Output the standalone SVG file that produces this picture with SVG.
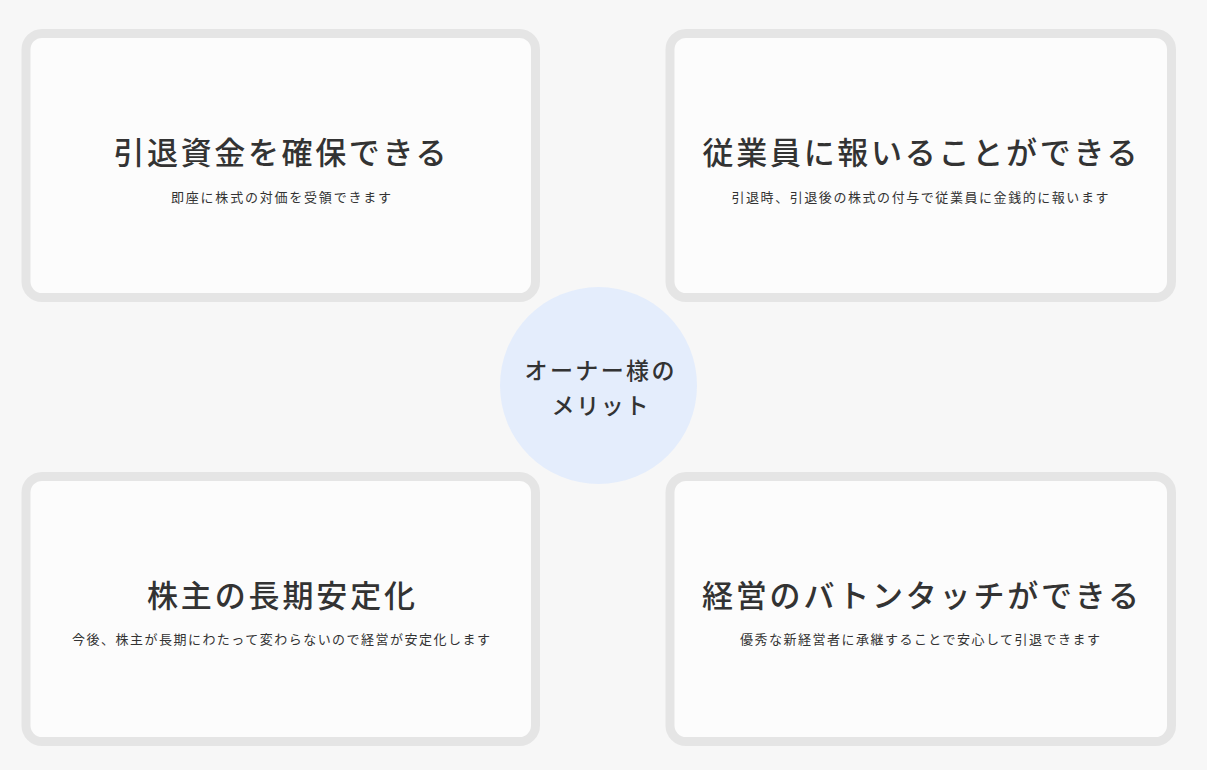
<svg xmlns="http://www.w3.org/2000/svg" width="1207" height="770" viewBox="0 0 1207 770">
<style>
.box{fill:#fcfcfc;stroke:#e5e5e5;stroke-width:9}
.t{font-family:"Noto Sans CJK JP","Noto Sans",sans-serif;font-size:31px;font-weight:500;fill:#333;text-anchor:middle}
.s{font-family:"Noto Sans CJK JP","Noto Sans",sans-serif;font-size:13px;font-weight:400;fill:#333;text-anchor:middle}
.c{font-family:"Noto Sans CJK JP","Noto Sans",sans-serif;font-size:23px;font-weight:500;fill:#333;text-anchor:middle}
</style>
<rect width="1207" height="770" fill="#f7f7f7"/>
<g id="connectors"></g>
<g id="node1">
<rect class="box" x="26" y="33.5" width="509.5" height="264" rx="16"/>
<text class="t" x="280" y="164" textLength="333" lengthAdjust="spacing">引退資金を確保できる</text>
<text class="s" x="281" y="201.5" textLength="220" lengthAdjust="spacing">即座に株式の対価を受領できます</text>
</g>
<g id="node2">
<rect class="box" x="670" y="33.5" width="501.5" height="264" rx="16"/>
<text class="t" x="920" y="164" textLength="435" lengthAdjust="spacing">従業員に報いることができる</text>
<text class="s" x="920" y="201.5" textLength="377" lengthAdjust="spacing">引退時、引退後の株式の付与で従業員に金銭的に報います</text>
</g>
<g id="node3">
<rect class="box" x="26" y="476.5" width="509.5" height="265" rx="16"/>
<text class="t" x="281" y="607" textLength="268" lengthAdjust="spacing">株主の長期安定化</text>
<text class="s" x="281" y="643.5" textLength="418" lengthAdjust="spacing">今後、株主が長期にわたって変わらないので経営が安定化します</text>
</g>
<g id="node4">
<rect class="box" x="670" y="476.5" width="501.5" height="265" rx="16"/>
<text class="t" x="920.5" y="607" textLength="437" lengthAdjust="spacing">経営のバトンタッチができる</text>
<text class="s" x="920" y="643.5" textLength="360" lengthAdjust="spacing">優秀な新経営者に承継することで安心して引退できます</text>
</g>
<g id="center">
<circle cx="598.5" cy="385.5" r="98.5" fill="#e4edfc"/>
<text class="c" x="599.5" y="378.5" textLength="150" lengthAdjust="spacing">オーナー様の</text>
<text class="c" x="600" y="413.5" textLength="97" lengthAdjust="spacing">メリット</text>
</g>
</svg>
